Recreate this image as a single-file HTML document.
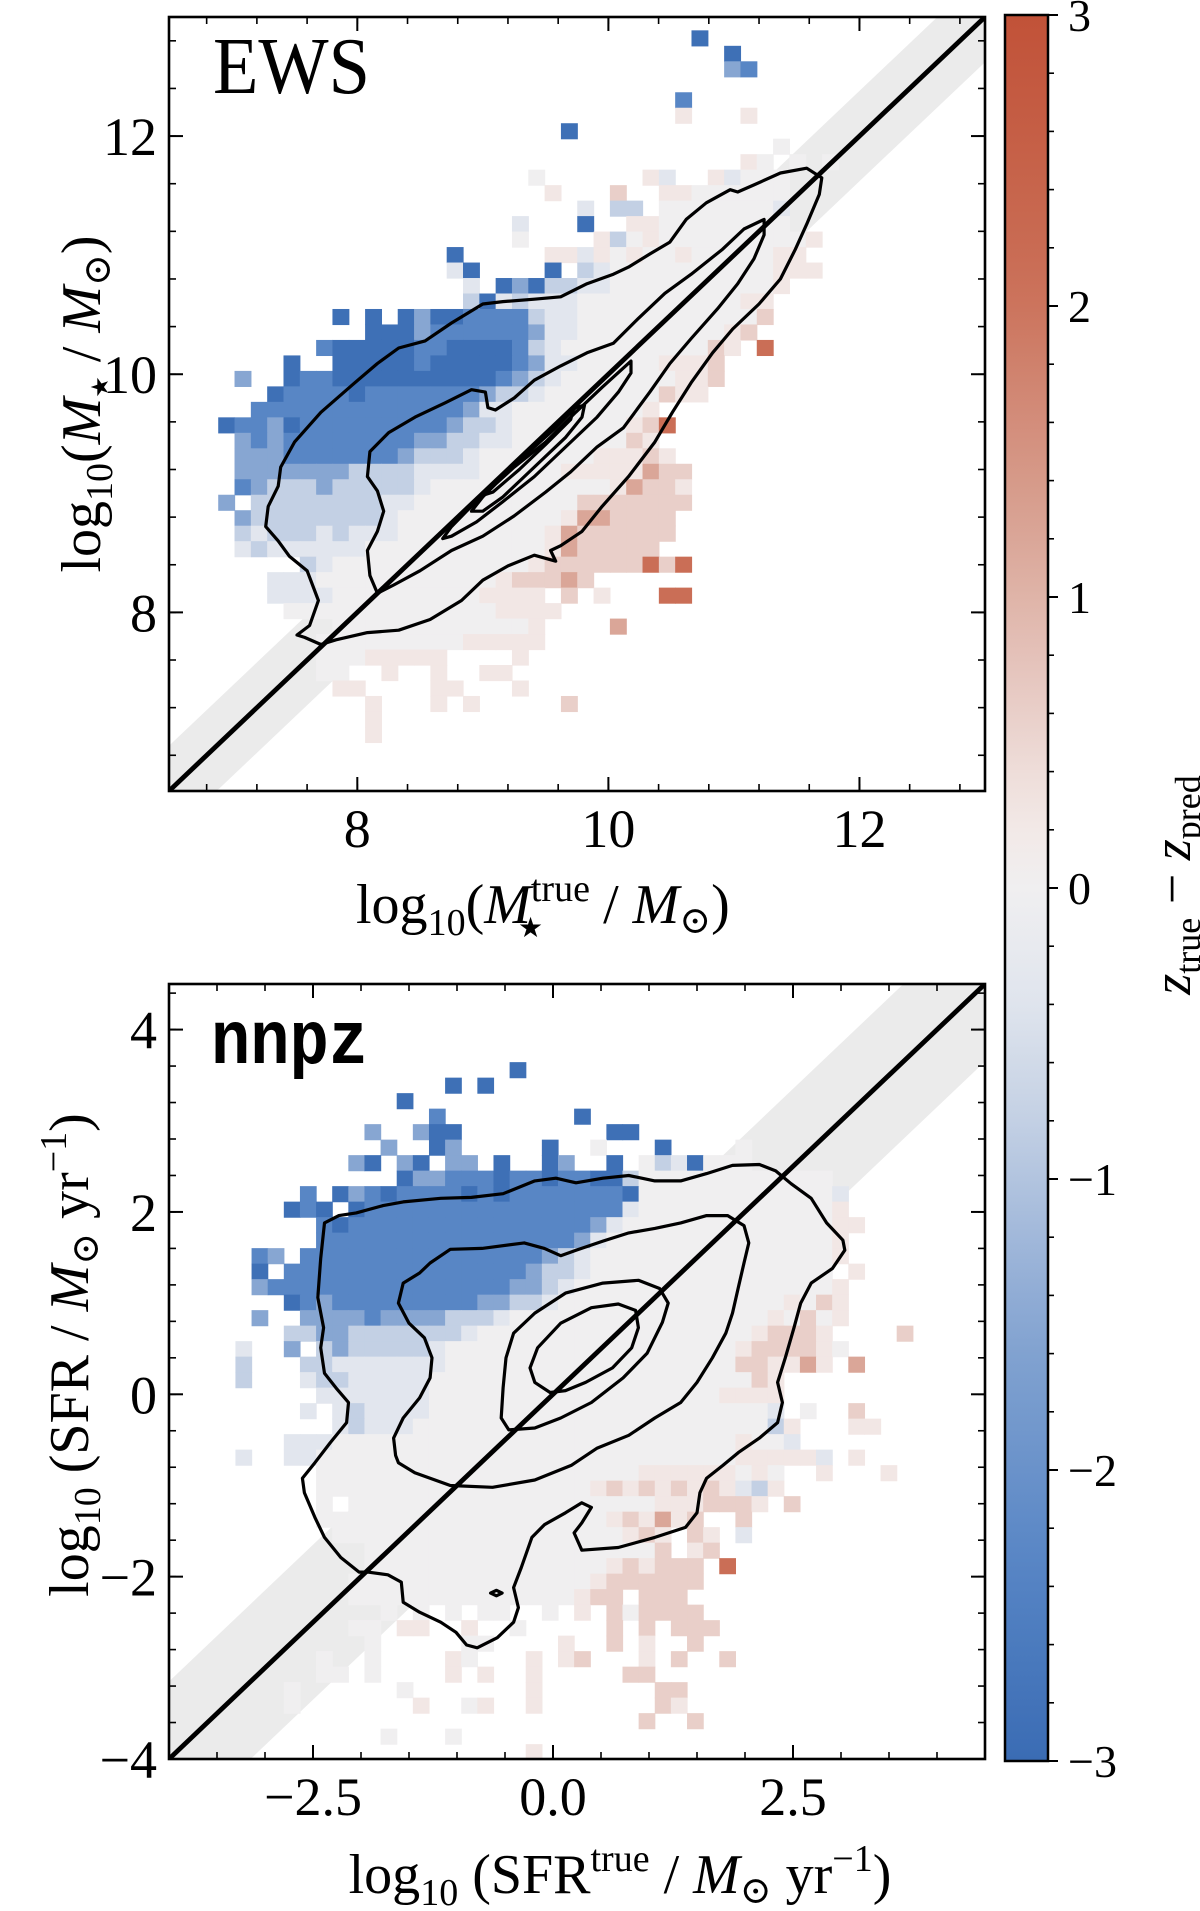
<!DOCTYPE html>
<html><head><meta charset="utf-8"><title>EWS / nnpz comparison</title>
<style>
html,body{margin:0;padding:0;background:#fff;}
svg{display:block;}
text{font-family:"Liberation Serif","DejaVu Serif",serif;fill:#000;}
</style></head>
<body>
<svg id="fig" xmlns="http://www.w3.org/2000/svg" width="1200" height="1911" viewBox="0 0 1200 1911">
<defs>
  <clipPath id="clipTop"><rect x="169" y="17" width="816" height="774"/></clipPath>
  <clipPath id="clipBot"><rect x="169" y="984" width="816" height="775"/></clipPath>
  <linearGradient id="cbGrad" x1="0" y1="1" x2="0" y2="0"></linearGradient>
</defs>
<g id="topPanel">
  <g id="topPlot" clip-path="url(#clipTop)"></g>
  <text x="213" y="93" font-size="80" textLength="157" lengthAdjust="spacingAndGlyphs">EWS</text>
  <g id="topAxes"></g>
  <text x="356" y="923" font-size="56">log<tspan font-size="38" dy="12">10</tspan><tspan dy="-12">(</tspan><tspan style="font-style:italic">M</tspan><tspan font-size="38" dy="-22">true</tspan><tspan font-size="28" dx="-72" dy="36">★</tspan><tspan dx="46" dy="-14"> / </tspan><tspan style="font-style:italic">M</tspan><tspan font-size="38" dy="10">⊙</tspan><tspan dy="-10">)</tspan></text>
  <text transform="translate(100,404) rotate(-90)" text-anchor="middle" font-size="56">log<tspan font-size="38" dy="12">10</tspan><tspan dy="-12">(</tspan><tspan style="font-style:italic">M</tspan><tspan font-size="24" dy="8">★</tspan><tspan dy="-8"> / </tspan><tspan style="font-style:italic">M</tspan><tspan font-size="38" dy="10">⊙</tspan><tspan dy="-10">)</tspan></text>
</g>
<g id="botPanel">
  <g id="botPlot" clip-path="url(#clipBot)"></g>
  <text x="211" y="1063" font-size="76" style="font-family:'Liberation Mono','DejaVu Sans Mono',monospace;font-weight:bold" textLength="157" lengthAdjust="spacingAndGlyphs">nnpz</text>
  <g id="botAxes"></g>
  <text x="620" y="1893" text-anchor="middle" font-size="56">log<tspan font-size="38" dy="12">10</tspan><tspan dy="-12"> (SFR</tspan><tspan font-size="38" dy="-22">true</tspan><tspan dy="22"> / </tspan><tspan style="font-style:italic">M</tspan><tspan font-size="38" dy="10">⊙</tspan><tspan dy="-10"> yr</tspan><tspan font-size="38" dy="-22">−1</tspan><tspan dy="22">)</tspan></text>
  <text transform="translate(88,1355) rotate(-90)" text-anchor="middle" font-size="56">log<tspan font-size="38" dy="12">10</tspan><tspan dy="-12"> (SFR / </tspan><tspan style="font-style:italic">M</tspan><tspan font-size="38" dy="10">⊙</tspan><tspan dy="-10"> yr</tspan><tspan font-size="38" dy="-22">−1</tspan><tspan dy="22">)</tspan></text>
</g>
<g id="colorbar">
  <rect x="1005" y="15" width="43" height="1746" fill="url(#cbGrad)" stroke="#000" stroke-width="2.5"/>
  <g id="cbAxes"></g>
  <text transform="translate(1190,885) rotate(-90)" text-anchor="middle" font-size="54"><tspan style="font-style:italic">z</tspan><tspan font-size="36" dy="10">true</tspan><tspan dy="-10"> − </tspan><tspan style="font-style:italic">z</tspan><tspan font-size="36" dy="10">pred</tspan></text>
</g>
</svg>
<script>
// ---------- data ----------
const LEVEL = {B:-2.9,b:-2.3,m:-1.5,l:-0.8,w:-0.35,'.':0,p:0.25,q:0.6,P:1.2,r:2.1,R:2.8};

const topHeatRows = [
 [0,29,"B"],[1,31,"B"],[2,31,"mb"],[4,28,"b"],[5,28,"p   p"],[6,21,"B"],[7,34,"."],
 [8,32,"p. . ."],
 [9,19,".      pw  pw..."],
 [10,20,"p   q  pp......"],
 [11,22,"w ll .......w"],
 [12,18,"w   B  pp........"],
 [13,18,".    pl.p.........p"],
 [14,14,"B     ppwp.p..p.....pp"],
 [15,14,"wB    B lw..........ppp"],
 [16,15,"w BmBllww..........p"],
 [17,15,"lBwlwww..........pp"],
 [18,7,"B B BmBBbbbblww...........q"],
 [19,9,"BBBmbbbbbbmww.........pq"],
 [20,6,"bBBBBBbbBBBBblw.........qp r"],
 [21,4,"B  BBBBBbBBBBBbmww.....pppq"],
 [22,1,"m  BbbBBBBBBBBBBbmlw.......ppq"],
 [23,3,"BbbbbBbbbbbbbmllw.......qpp"],
 [24,2,"bbbbbbbbbbbbbmww........p"],
 [25,0,"BbbmBbbbbbbbbbmllw.......pqr"],
 [26,1,"mbmbbbbbbbbmmllww.......qp"],
 [27,1,"mmmbbbbbbbmlllw.......pppqp"],
 [28,1,"mmmmmmmllllwwww.....pppppPqq"],
 [29,1,"bmlllmlllllw...........pPqqp"],
 [30,0,"m llllllllww..........qqqqqqq"],
 [31,1,"mllllllllw..........pPPqqqq"],
 [32,1,"lwlllwlwww.........pPqqqqqq"],
 [33,1,"wlwwwwww...........pPqqqqq"],
 [34,5,"lw............pqqqqqqrqr"],
 [35,3,"www...........pqqqPq"],
 [36,3,"wwww.........pppp q p   rr"],
 [37,4,".............pppp"],
 [38,7,"............p    P"],
 [39,6,".........ppppp"],
 [40,6,"...ppppp    p"],
 [41,6,"..  p  p  pp"],
 [42,7,"pp    pp   p"],
 [43,9,"p   p p     q"],
 [44,9,"p"],[45,9,"p"]
];
const topBinX0 = 6.892, topBinY0 = 12.888, topBinW = 0.13, topBinH = 0.13;

const botHeatRows = [
 [0,17,"B"],[1,13,"B B"],[2,10,"B"],[3,12,"b        B"],
 [4,8,"m  mBB         BB"],
 [5,9,"m  Bm     B  .   B    ."],
 [6,7,"mB mB mm B  Bm  B .lwB..."],
 [7,10,"BmmbbbBbbBbbBBl............"],
 [8,4,"b BmbB"+"bbbbBbBbbbbbbb"+"B"+".".repeat(12)+"w"],
 [9,3,"BbB B"+"b".repeat(16)+"w"+".".repeat(12)+"p"],
 [10,5,"bB"+"b".repeat(15)+"mw"+".".repeat(13)+"pp"],
 [11,5,"b".repeat(16)+"mw"+".".repeat(14)+"p"],
 [12,1,"bm "+"b".repeat(15)+"mlw"+".".repeat(15)+"p"],
 [13,1,"B "+"b".repeat(15)+"mllw"+".".repeat(15)+" p"],
 [14,1,"m"+"b".repeat(15)+"mmlw"+".".repeat(16)+"p"],
 [15,3,"Bbmb"+"b".repeat(8)+"mmllw"+".".repeat(14)+"p.qp"],
 [16,1,"m  "+"mmmmbmmmml"+"llw"+".".repeat(16)+"p.q.p"],
 [17,3,"llmmlllllll"+"w"+".".repeat(17)+"pqqqp    q"],
 [18,0,"w  m lmlllll"+"w"+".".repeat(18)+"pqqqqp."],
 [19,0,"l   ll"+"w".repeat(7)+".".repeat(18)+"qqppPp P"],
 [20,0,"l   wll"+"w".repeat(5)+".".repeat(20)+"qp"],
 [21,5,"w".repeat(7)+".".repeat(18)+"pppp"],
 [22,4,"w wlwwww"+".".repeat(21)+"w .  q"],
 [23,6,"wlwww"+".".repeat(22)+"lp   pp"],
 [24,3,"www"+".".repeat(25)+"p..w"],
 [25,0,"w  ww"+".".repeat(26)+"pppppw p"],
 [26,5,".".repeat(20)+"pppppp.p.  p   p"],
 [27,5,".".repeat(17)+"pqpqpqpqp"+"wlp"],
 [28,5,". ."+".".repeat(18)+"pppqqq"+"p q"],
 [29,5,".".repeat(18)+"pqpPpq  q"],
 [30,6,".".repeat(18)+"pqp qp w"],
 [31,8,".".repeat(18)+"q pq"],
 [32,8,".".repeat(15)+"pqpqqq r"],
 [33,7,".".repeat(15)+"pqqqqqq"],
 [34,7,".".repeat(14)+"pqq qqq"],
 [35,9,". . . ..  . p q.qqqq"],
 [36,7,".. pp  p  .     q q qqq"],
 [37,8,".     ..    p  q p  q"],
 [38,5,".  .    p.   p pq   p q  q"],
 [39,5,".. .    p p  p     qq"],
 [40,3,".      .       p       qq"],
 [41,3,".       p  .p  p       qp"],
 [42,25,"q  q"],[43,9,".   ."],[44,18,"p"]
];
const botBinX0 = -3.308, botBinY0 = 3.643, botBinW = 0.168, botBinH = 0.170;

const topContour1 = [[7.52,7.81],[7.62,7.89],[7.69,8.10],[7.60,8.35],[7.46,8.47],[7.37,8.60],[7.27,8.72],[7.29,8.89],[7.37,9.06],[7.39,9.22],[7.50,9.43],[7.71,9.68],[7.96,9.91],[8.16,10.09],[8.33,10.22],[8.54,10.28],[8.75,10.43],[9.00,10.59],[9.16,10.61],[9.41,10.63],[9.62,10.65],[9.83,10.76],[10.04,10.84],[10.16,10.90],[10.33,11.01],[10.49,11.11],[10.62,11.30],[10.78,11.44],[10.97,11.55],[11.03,11.53],[11.16,11.59],[11.37,11.69],[11.58,11.73],[11.70,11.65],[11.68,11.51],[11.58,11.26],[11.49,11.05],[11.37,10.80],[11.20,10.59],[10.99,10.38],[10.83,10.18],[10.66,9.93],[10.51,9.68],[10.37,9.43],[10.16,9.14],[9.95,8.89],[9.79,8.68],[9.62,8.56],[9.54,8.52],[9.58,8.43],[9.41,8.48],[9.20,8.39],[9.00,8.27],[8.83,8.10],[8.58,7.94],[8.33,7.85],[8.08,7.83],[7.83,7.77],[7.71,7.73],[7.58,7.79]];
const topContour2 = [[8.16,8.16],[8.10,8.31],[8.08,8.52],[8.16,8.68],[8.21,8.85],[8.16,9.02],[8.08,9.14],[8.10,9.35],[8.25,9.51],[8.46,9.64],[8.70,9.76],[8.91,9.87],[9.02,9.85],[9.04,9.72],[9.10,9.70],[9.25,9.80],[9.41,9.95],[9.62,10.07],[9.83,10.18],[10.04,10.26],[10.24,10.47],[10.45,10.68],[10.66,10.84],[10.91,11.05],[11.08,11.22],[11.24,11.30],[11.24,11.17],[11.16,10.97],[11.03,10.76],[10.87,10.55],[10.66,10.30],[10.49,10.09],[10.33,9.85],[10.12,9.55],[9.91,9.39],[9.70,9.18],[9.50,9.01],[9.25,8.81],[9.00,8.64],[8.75,8.52],[8.50,8.35],[8.29,8.23]];
const topContour3 = [[8.68,8.62],[8.75,8.72],[8.87,8.85],[9.04,9.02],[9.25,9.22],[9.50,9.43],[9.74,9.68],[9.95,9.89],[10.18,10.11],[10.18,10.01],[10.08,9.85],[9.91,9.64],[9.66,9.39],[9.41,9.14],[9.16,8.93],[8.95,8.76],[8.75,8.64]];
const topContour4 = [[8.91,8.85],[9.00,8.97],[9.16,9.14],[9.37,9.35],[9.58,9.55],[9.74,9.72],[9.81,9.74],[9.79,9.64],[9.66,9.47],[9.50,9.31],[9.33,9.14],[9.16,8.97],[9.00,8.85]];
const topContour5 = [[9.02,8.99],[9.20,9.20],[9.41,9.41],[9.66,9.66],[9.72,9.70],[9.70,9.62],[9.50,9.41],[9.29,9.20],[9.08,9.01]];

const botContour1 = [[-2.02,-1.95],[-2.21,-1.79],[-2.38,-1.57],[-2.48,-1.35],[-2.59,-1.08],[-2.61,-0.92],[-2.48,-0.75],[-2.32,-0.53],[-2.15,-0.31],[-2.13,-0.09],[-2.26,0.07],[-2.38,0.23],[-2.42,0.51],[-2.39,0.73],[-2.45,1.06],[-2.42,1.49],[-2.38,1.88],[-2.23,1.96],[-2.05,1.99],[-1.77,2.07],[-1.56,2.11],[-1.17,2.15],[-0.85,2.16],[-0.52,2.20],[-0.19,2.34],[0.03,2.37],[0.24,2.32],[0.52,2.37],[0.79,2.40],[1.06,2.34],[1.33,2.34],[1.60,2.42],[1.87,2.51],[2.15,2.52],[2.32,2.45],[2.48,2.31],[2.69,2.15],[2.85,1.88],[3.02,1.69],[3.04,1.58],[2.91,1.38],[2.69,1.22],[2.58,1.00],[2.51,0.73],[2.42,0.40],[2.34,0.13],[2.39,-0.09],[2.34,-0.31],[2.15,-0.48],[1.93,-0.64],[1.77,-0.78],[1.60,-0.92],[1.53,-1.08],[1.50,-1.30],[1.38,-1.46],[1.06,-1.57],[0.68,-1.68],[0.30,-1.71],[0.22,-1.52],[0.30,-1.41],[0.40,-1.24],[0.30,-1.19],[0.13,-1.30],[-0.09,-1.43],[-0.22,-1.57],[-0.33,-1.90],[-0.41,-2.12],[-0.36,-2.34],[-0.41,-2.50],[-0.58,-2.67],[-0.79,-2.78],[-0.90,-2.75],[-1.01,-2.61],[-1.17,-2.50],[-1.39,-2.39],[-1.56,-2.28],[-1.58,-2.06],[-1.72,-1.98],[-1.93,-1.95]];
const botContour2 = [[-1.64,-0.67],[-1.66,-0.48],[-1.56,-0.26],[-1.39,-0.04],[-1.28,0.18],[-1.26,0.40],[-1.34,0.62],[-1.50,0.78],[-1.61,1.00],[-1.56,1.22],[-1.39,1.33],[-1.28,1.44],[-1.07,1.59],[-0.74,1.60],[-0.30,1.66],[-0.09,1.60],[0.08,1.52],[0.24,1.58],[0.52,1.68],[0.79,1.77],[1.06,1.82],[1.33,1.88],[1.60,1.96],[1.82,1.96],[1.99,1.85],[2.04,1.66],[1.99,1.44],[1.93,1.17],[1.87,0.89],[1.80,0.67],[1.66,0.40],[1.50,0.13],[1.33,-0.09],[1.06,-0.26],[0.79,-0.45],[0.46,-0.59],[0.19,-0.78],[-0.19,-0.94],[-0.63,-1.02],[-1.07,-1.00],[-1.44,-0.86],[-1.61,-0.75]];
const botContour3 = [[-0.46,-0.39],[-0.54,-0.26],[-0.52,0.07],[-0.49,0.40],[-0.41,0.67],[-0.19,0.89],[0.13,1.11],[0.52,1.22],[0.89,1.25],[1.11,1.16],[1.20,1.00],[1.14,0.79],[0.98,0.45],[0.73,0.18],[0.40,-0.09],[0.08,-0.26],[-0.19,-0.37]];
const botContour4 = [[-0.03,0.02],[-0.19,0.13],[-0.24,0.29],[-0.16,0.51],[0.08,0.78],[0.40,0.95],[0.68,0.99],[0.86,0.92],[0.89,0.73],[0.82,0.51],[0.62,0.29],[0.34,0.13],[0.13,0.04]];
const botContourIsland = [[-0.65,-2.18],[-0.59,-2.15],[-0.53,-2.18],[-0.59,-2.21]];

const topXTicks = [8,10,12];
const topYTicks = [8,10,12];
const botXTicks = [-2.5,0,2.5];
const botXTickLabels = ["−2.5","0.0","2.5"];
const botYTicks = [-4,-2,0,2,4];
const botYTickLabels = ["−4","−2","0","2","4"];
const cbTicks = [-3,-2,-1,0,1,2,3];
const cbTickLabels = ["−3","−2","−1","0","1","2","3"];

// ---------- helpers ----------
const NS = "http://www.w3.org/2000/svg";
function mk(tag, attrs, parent){ const e=document.createElementNS(NS,tag); for(const k in attrs) e.setAttribute(k,attrs[k]); parent.appendChild(e); return e; }
const CM = [[-3,[58,108,180]],[-2.3,[88,134,197]],[-1.5,[135,166,210]],[-0.8,[195,208,228]],[-0.35,[226,230,238]],[0,[240,239,240]],[0.25,[242,231,229]],[0.6,[233,207,201]],[1.2,[218,166,152]],[2.1,[202,110,86]],[3,[193,82,56]]];
function cmap(v){ v=Math.max(-3,Math.min(3,v)); for(let i=0;i<CM.length-1;i++){ const [a,ca]=CM[i],[b,cb]=CM[i+1]; if(v<=b){ const t=(v-a)/(b-a); return "rgb("+ca.map((c,j)=>Math.round(c+(cb[j]-c)*t)).join(",")+")"; } } return "rgb(193,82,56)"; }

const tX=v=>169+(v-6.5)*(816/6.5), tY=v=>791-(v-6.5)*(774/6.5);
const bX=v=>169+(v+4)*(816/8.5), bY=v=>1759-(v+4)*(775/8.5);
const cbY=v=>1761-(v+3)*(1746/6);

function drawBand(g,X,Y,lo,hi,w){
  const p=[[lo,lo+w],[hi,hi+w],[hi,hi-w],[lo,lo-w]].map(a=>X(a[0]).toFixed(1)+","+Y(a[1]).toFixed(1)).join(" ");
  const el=mk("polygon",{points:p,fill:"#ebebeb"},g);
  
  
}
function drawHeat(g,rows,x0,y0,bw,bh,X,Y){
  for(const [r,c0,s] of rows){
    for(let i=0;i<s.length;i++){
      const ch=s[i]; if(ch===' ') continue;
      const xa=x0+(c0+i)*bw, ya=y0-r*bh;
      const el=mk("rect",{x:X(xa).toFixed(2),y:Y(ya).toFixed(2),width:(X(xa+bw)-X(xa)+0.6).toFixed(2),height:(Y(ya-bh)-Y(ya)+0.6).toFixed(2),fill:cmap(LEVEL[ch])},g);
      
      
    }
  }
}
function drawLine(g,X,Y,lo,hi){
  const el=mk("line",{x1:X(lo),y1:Y(lo),x2:X(hi),y2:Y(hi),stroke:"#000","stroke-width":4.8},g);
  
  
}
function drawContour(g,pts,X,Y,name){
  const d="M"+pts.map(p=>X(p[0]).toFixed(1)+","+Y(p[1]).toFixed(1)).join("L")+"Z";
  const el=mk("path",{d:d,fill:"none",stroke:"#000","stroke-width":3.2,"stroke-linejoin":"round"},g);
  
  
}
function drawFrame(g,x0,y0,x1,y1,xMaj,xMin,yMaj,yMin,X,Y){
  for(const v of xMin){ const x=X(v); mk("line",{x1:x,y1:y1,x2:x,y2:y1-7,stroke:"#000","stroke-width":1.6},g); mk("line",{x1:x,y1:y0,x2:x,y2:y0+7,stroke:"#000","stroke-width":1.6},g); }
  for(const v of xMaj){ const x=X(v); mk("line",{x1:x,y1:y1,x2:x,y2:y1-14,stroke:"#000","stroke-width":2},g); mk("line",{x1:x,y1:y0,x2:x,y2:y0+14,stroke:"#000","stroke-width":2},g); }
  for(const v of yMin){ const y=Y(v); mk("line",{x1:x0,y1:y,x2:x0+7,y2:y,stroke:"#000","stroke-width":1.6},g); mk("line",{x1:x1,y1:y,x2:x1-7,y2:y,stroke:"#000","stroke-width":1.6},g); }
  for(const v of yMaj){ const y=Y(v); mk("line",{x1:x0,y1:y,x2:x0+14,y2:y,stroke:"#000","stroke-width":2},g); mk("line",{x1:x1,y1:y,x2:x1-14,y2:y,stroke:"#000","stroke-width":2},g); }
  const fr=mk("rect",{x:x0,y:y0,width:x1-x0,height:y1-y0,fill:"none",stroke:"#000","stroke-width":2.6},g);
  
  
}
function range(a,b,s){ const o=[]; for(let v=a; v<=b+1e-9; v+=s) o.push(+v.toFixed(3)); return o; }

const tp=document.getElementById("topPlot");
drawBand(tp,tX,tY,6.5,13,0.38);
drawHeat(tp,topHeatRows,topBinX0,topBinY0,topBinW,topBinH,tX,tY);
drawLine(tp,tX,tY,6.5,13);
[topContour1,topContour2,topContour3,topContour4,topContour5].forEach((c,i)=>drawContour(tp,c,tX,tY,"density-contour-"+(i+1)));
const ta=document.getElementById("topAxes");
drawFrame(ta,169,17,985,791,topXTicks,range(6.8,12.8,0.4),topYTicks,range(6.8,12.8,0.4),tX,tY);
topXTicks.forEach(v=>{ const t=mk("text",{x:tX(v),y:847,"text-anchor":"middle","font-size":54},ta); t.textContent=String(v);
  
   });
topYTicks.forEach(v=>{ const t=mk("text",{x:157,y:tY(v)+19,"text-anchor":"end","font-size":54},ta); t.textContent=String(v);
  
   });

const bp=document.getElementById("botPlot");
drawBand(bp,bX,bY,-4,4.5,0.85);
drawHeat(bp,botHeatRows,botBinX0,botBinY0,botBinW,botBinH,bX,bY);
drawLine(bp,bX,bY,-4,4.5);
[botContour1,botContour2,botContour3,botContour4,botContourIsland].forEach((c,i)=>drawContour(bp,c,bX,bY,"density-contour-"+(i+1)));
const ba=document.getElementById("botAxes");
drawFrame(ba,169,984,985,1759,botXTicks,range(-3.5,4.5,0.5),botYTicks,range(-3.6,4.4,0.4),bX,bY);
botXTicks.forEach((v,i)=>{ const t=mk("text",{x:bX(v),y:1815,"text-anchor":"middle","font-size":54},ba); t.textContent=botXTickLabels[i];
  
   });
botYTicks.forEach((v,i)=>{ const t=mk("text",{x:157,y:bY(v)+19,"text-anchor":"end","font-size":54},ba); t.textContent=botYTickLabels[i];
  
   });

const grad=document.getElementById("cbGrad");
for(let i=0;i<=30;i++){ const v=-3+i*0.2; mk("stop",{offset:(i/30).toFixed(4),"stop-color":cmap(v)},grad); }
const cba=document.getElementById("cbAxes");
range(-2.8,2.8,0.2).forEach(v=>{ mk("line",{x1:1048,y1:cbY(v),x2:1054,y2:cbY(v),stroke:"#000","stroke-width":1.6},cba); });
cbTicks.forEach((v,i)=>{ mk("line",{x1:1048,y1:cbY(v),x2:1058,y2:cbY(v),stroke:"#000","stroke-width":2},cba);
  const t=mk("text",{x:1068,y:cbY(v)+16,"font-size":46},cba); t.textContent=cbTickLabels[i];
  
   });
</script>
</body></html>
